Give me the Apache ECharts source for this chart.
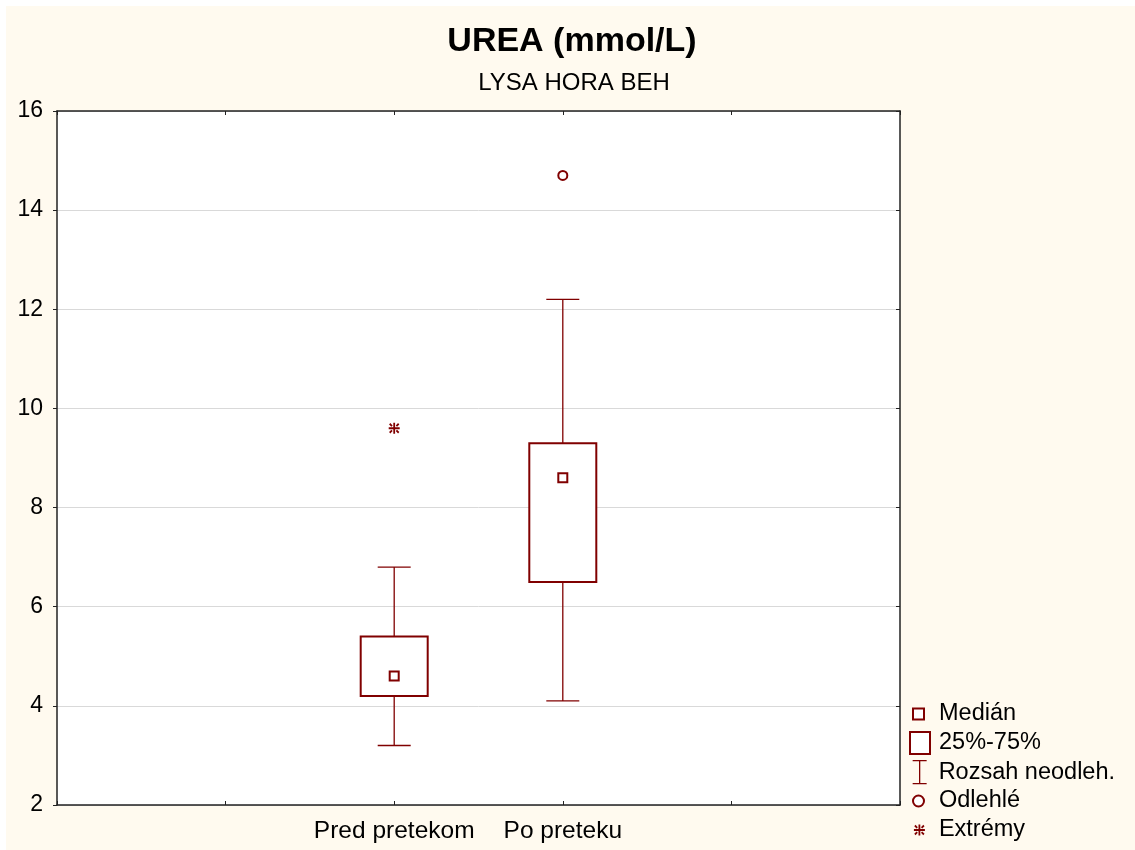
<!DOCTYPE html>
<html>
<head>
<meta charset="utf-8">
<title>UREA (mmol/L)</title>
<script src="https://cdn.jsdelivr.net/npm/echarts@6/dist/echarts.min.js"></script>
<style>
  html, body { margin: 0; padding: 0; background: #fff; }
  .paper {
    position: absolute; left: 6px; top: 6px;
    width: 1129px; height: 844px;
    background: #fffaef;
  }
  #chart { position: absolute; left: 0; top: 0; width: 1135px; height: 850px; }
</style>
</head>
<body>
<div class="paper"></div>
<div id="chart"></div>
<script>
// slots on the x axis, the two groups sit on the 3rd and 4th tick
const xLabels = ["", "", "Pred pretekom", "Po preteku", "", ""];
const groups = ["Pred pretekom", "Po preteku"];

const medians = [4.6, 8.6];
const q1 = [4.2, 6.5];
const q3 = [5.4, 9.3];
const rangeLow = [3.2, 4.1];
const rangeHigh = [6.8, 12.2];

const outliers = [["Po preteku", 14.7]];
const extremes = [["Pred pretekom", 9.6]];

const yTicks = { min: 2, max: 16, interval: 2 };

const RED = "#800000";
const FONT = "Liberation Sans, Arial, sans-serif";

const chart = echarts.init(document.getElementById("chart"), null, { renderer: "canvas" });

const star = "path://M0,5.5 L11,5.5 M5.5,0 L5.5,11 M1,1 L3.3,3.3 M10,1 L7.7,3.3 M1,10 L3.3,7.7 M10,10 L7.7,7.7";
const range = "path://M0,0 L14,0 M7,0 L7,23 M0,23 L14,23";

const legendItem = (name, left, cy, w, h, icon, itemStyle, pad) => ({
  show: true,
  orient: "vertical",
  left: left,
  top: cy - 12,
  padding: 0,
  itemWidth: w,
  itemHeight: h,
  selectedMode: false,
  data: [{ name: name, icon: icon, itemStyle: itemStyle }],
  textStyle: {
    fontFamily: FONT,
    fontSize: 23.5,
    color: "#000",
    padding: [0, 0, 0, pad]
  }
});

const axisLine = { show: true, lineStyle: { color: "#222", width: 1.5 } };

chart.setOption({
  backgroundColor: "transparent",
  animation: false,
  title: [
    {
      text: "UREA (mmol/L)",
      left: 572,
      top: 25,
      textAlign: "center",
      padding: 0,
      textStyle: { fontFamily: FONT, fontSize: 34, fontWeight: "bold", color: "#000" }
    },
    {
      text: "LYSA HORA BEH",
      left: 574,
      top: 71,
      textAlign: "center",
      padding: 0,
      textStyle: { fontFamily: FONT, fontSize: 24, fontWeight: "normal", color: "#000" }
    }
  ],
  grid: {
    left: 57,
    top: 111,
    right: 235,
    bottom: 45,
    show: true,
    backgroundColor: "#fff",
    borderWidth: 0
  },
  legend: [
    legendItem("Medián", 912, 714, 11, 11, "rect",
      { color: "#fff", borderColor: RED, borderWidth: 2 }, 10),
    legendItem("25%-75%", 909, 743, 20, 22, "rect",
      { color: "#fff", borderColor: RED, borderWidth: 2 }, 4),
    legendItem("Rozsah neodleh.", 912, 772, 14, 23, range,
      { color: "transparent", borderColor: RED, borderWidth: 1.3 }, 7),
    legendItem("Odlehlé", 912, 801, 11, 11, "circle",
      { color: "#fff", borderColor: RED, borderWidth: 2 }, 10),
    legendItem("Extrémy", 913, 830, 11, 11, star,
      { color: "transparent", borderColor: RED, borderWidth: 1.8 }, 9)
  ],
  xAxis: [
    {
      type: "category",
      data: xLabels,
      boundaryGap: false,
      position: "bottom",
      axisLine: axisLine,
      axisTick: { show: true, inside: true, length: 4, interval: 0, lineStyle: { color: "#222" } },
      axisLabel: { interval: 0, fontFamily: FONT, fontSize: 24.5, color: "#000", margin: 14 },
      splitLine: { show: false }
    },
    {
      type: "category",
      data: xLabels,
      boundaryGap: false,
      position: "top",
      axisLine: axisLine,
      axisTick: { show: true, inside: true, length: 4, interval: 0, lineStyle: { color: "#222" } },
      axisLabel: { show: false },
      splitLine: { show: false }
    }
  ],
  yAxis: [
    {
      type: "value",
      min: yTicks.min,
      max: yTicks.max,
      interval: yTicks.interval,
      position: "left",
      axisLine: axisLine,
      axisTick: { show: true, inside: false, length: 4, lineStyle: { color: "#222" } },
      axisLabel: { fontFamily: FONT, fontSize: 23, color: "#000", margin: 14 },
      splitLine: { show: true, lineStyle: { color: "#d9d9d9", width: 1 } }
    },
    {
      type: "value",
      min: yTicks.min,
      max: yTicks.max,
      interval: yTicks.interval,
      position: "right",
      axisLine: axisLine,
      axisTick: { show: true, inside: true, length: 4, lineStyle: { color: "#222" } },
      axisLabel: { show: false },
      splitLine: { show: false }
    }
  ],
  series: [
    {
      name: "Rozsah neodleh.",
      type: "custom",
      data: groups.map((g, i) => [g, rangeLow[i], q1[i], q3[i], rangeHigh[i]]),
      encode: { x: 0, y: [1, 2, 3, 4] },
      renderItem: (params, api) => {
        const x = api.value(0);
        const lo = api.coord([x, api.value(1)]);
        const b = api.coord([x, api.value(2)]);
        const t = api.coord([x, api.value(3)]);
        const hi = api.coord([x, api.value(4)]);
        const cap = 16.5;
        const style = { stroke: RED, lineWidth: 1.3 };
        return {
          type: "group",
          children: [
            { type: "line", shape: { x1: t[0], y1: t[1], x2: hi[0], y2: hi[1] }, style },
            { type: "line", shape: { x1: hi[0] - cap, y1: hi[1], x2: hi[0] + cap, y2: hi[1] }, style },
            { type: "line", shape: { x1: b[0], y1: b[1], x2: lo[0], y2: lo[1] }, style },
            { type: "line", shape: { x1: lo[0] - cap, y1: lo[1], x2: lo[0] + cap, y2: lo[1] }, style }
          ]
        };
      }
    },
    {
      name: "25%-75%",
      type: "custom",
      data: groups.map((g, i) => [g, q1[i], q3[i]]),
      encode: { x: 0, y: [1, 2] },
      renderItem: (params, api) => {
        const x = api.value(0);
        const top = api.coord([x, api.value(2)]);
        const bot = api.coord([x, api.value(1)]);
        const half = 33.5;
        return {
          type: "rect",
          shape: { x: top[0] - half, y: top[1], width: half * 2, height: bot[1] - top[1] },
          style: { fill: "#fff", stroke: RED, lineWidth: 2 }
        };
      }
    },
    {
      name: "Medián",
      type: "scatter",
      data: groups.map((g, i) => [g, medians[i]]),
      symbol: "rect",
      symbolSize: 9,
      z: 5,
      itemStyle: { color: "#fff", borderColor: RED, borderWidth: 2, opacity: 1 }
    },
    {
      name: "Odlehlé",
      type: "scatter",
      data: outliers,
      symbol: "circle",
      symbolSize: 9,
      z: 5,
      itemStyle: { color: "#fff", borderColor: RED, borderWidth: 2, opacity: 1 }
    },
    {
      name: "Extrémy",
      type: "scatter",
      data: extremes,
      symbol: star,
      symbolSize: 11,
      z: 5,
      itemStyle: { color: "transparent", borderColor: RED, borderWidth: 1.8, opacity: 1 }
    }
  ]
});
</script>
</body>
</html>
